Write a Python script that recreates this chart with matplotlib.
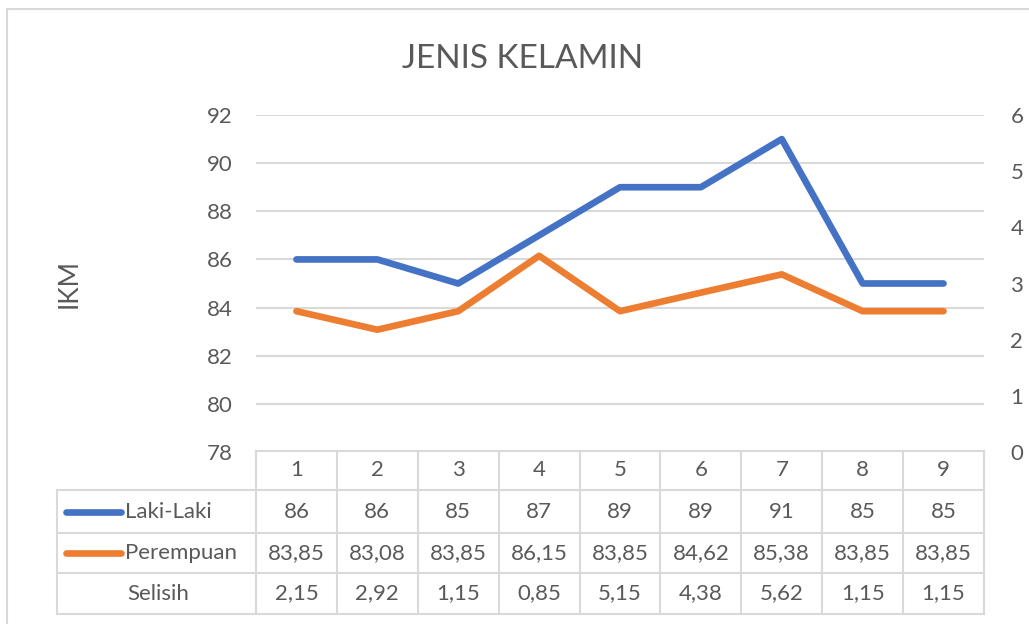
import matplotlib.pyplot as plt
from matplotlib.lines import Line2D
from matplotlib.patches import Rectangle

plt.rcParams['font.family'] = ['Lato', 'DejaVu Sans']

# data
categories = ["1", "2", "3", "4", "5", "6", "7", "8", "9"]
laki_laki = [86, 86, 85, 87, 89, 89, 91, 85, 85]
perempuan = [83.85, 83.08, 83.85, 86.15, 83.85, 84.62, 85.38, 83.85, 83.85]
selisih = [2.15, 2.92, 1.15, 0.85, 5.15, 4.38, 5.62, 1.15, 1.15]
left_ticks = [78, 80, 82, 84, 86, 88, 90, 92]
right_ticks = [0, 1, 2, 3, 4, 5, 6]

blue = "#4472C4"
orange = "#ED7D31"
text_col = "#595959"
grid_col = "#D9D9D9"
fs = 16
lw = 4.8

W, H = 1029, 624
fig = plt.figure(figsize=(W / 100, H / 100), dpi=100)


def fx(px):
    return px / W


def fy(py):
    return 1 - py / H


# outer chart border
fig.patches.append(Rectangle((fx(7), fy(640)), fx(1040), fy(9) - fy(640),
                             transform=fig.transFigure, fill=False,
                             edgecolor=grid_col, linewidth=1.5))

# main plot area
x0, x1 = 256, 984
y_top, y_bot = 115, 452
ax = fig.add_axes([fx(x0), fy(y_bot), fx(x1 - x0), fy(y_top) - fy(y_bot)])
n = len(categories)
xs = list(range(n))
ax.plot(xs, laki_laki, color=blue, linewidth=lw, solid_capstyle='round',
        solid_joinstyle='round')
ax.plot(xs, perempuan, color=orange, linewidth=lw, solid_capstyle='round',
        solid_joinstyle='round')
ax.set_xlim(-0.5, n - 0.5)
ax.set_ylim(left_ticks[0], left_ticks[-1])
ax.set_yticks(left_ticks)
ax.set_xticks([])
ax.yaxis.grid(True, color=grid_col, linewidth=1.5)
ax.set_axisbelow(True)
for s in ax.spines.values():
    s.set_visible(False)
ax.tick_params(axis='y', length=0, pad=17, labelsize=fs, labelcolor=text_col)
ax.set_ylabel("IKM", fontsize=19, color=text_col, labelpad=90)

ax2 = ax.twinx()
ax2.set_ylim(right_ticks[0], right_ticks[-1])
ax2.set_yticks(right_ticks)
for s in ax2.spines.values():
    s.set_visible(False)
ax2.tick_params(axis='y', length=0, pad=19, labelsize=fs, labelcolor=text_col)

fig.text(fx(523), fy(59), "JENIS KELAMIN", ha='center', va='center',
         fontsize=24, color=text_col)

# data table below the plot
tab_left = 57
col_w = (x1 - x0) / n
row_edges = [451, 490, 533, 573, 614]
tax = fig.add_axes([0, 0, 1, 1])
tax.set_xlim(0, W)
tax.set_ylim(H, 0)
tax.axis('off')

line_kw = dict(color=grid_col, linewidth=1.5)
# horizontal lines
tax.plot([x0, x1], [row_edges[0], row_edges[0]], **line_kw)
for r in row_edges[1:]:
    tax.plot([tab_left, x1], [r, r], **line_kw)
# vertical lines
tax.plot([tab_left, tab_left], [row_edges[1], row_edges[-1]], **line_kw)
for i in range(n + 1):
    xv = x0 + i * col_w
    tax.plot([xv, xv], [row_edges[0], row_edges[-1]], **line_kw)


def fmt(v):
    if float(v).is_integer():
        return str(int(v))
    return f"{v:.2f}".replace(".", ",")


rows = [categories, [fmt(v) for v in laki_laki],
        [fmt(v) for v in perempuan], [fmt(v) for v in selisih]]
for ri, row in enumerate(rows):
    yc = (row_edges[ri] + row_edges[ri + 1]) / 2
    for ci, val in enumerate(row):
        xc = x0 + (ci + 0.5) * col_w
        tax.text(xc, yc, val, ha='center', va='center', fontsize=fs,
                 color=text_col)

labels = ["Laki-Laki", "Perempuan", "Selisih"]
keys = [blue, orange, None]
for ri, (lab, col) in enumerate(zip(labels, keys)):
    yc = (row_edges[ri + 1] + row_edges[ri + 2]) / 2
    if col is not None:
        tax.add_line(Line2D([66, 121], [yc, yc], color=col, linewidth=lw,
                            solid_capstyle='round'))
        tax.text(125, yc, lab, ha='left', va='center', fontsize=fs,
                 color=text_col)
    else:
        tax.text(158, yc, lab, ha='center', va='center', fontsize=fs,
                 color=text_col)

fig.savefig("out.png", dpi=100)
